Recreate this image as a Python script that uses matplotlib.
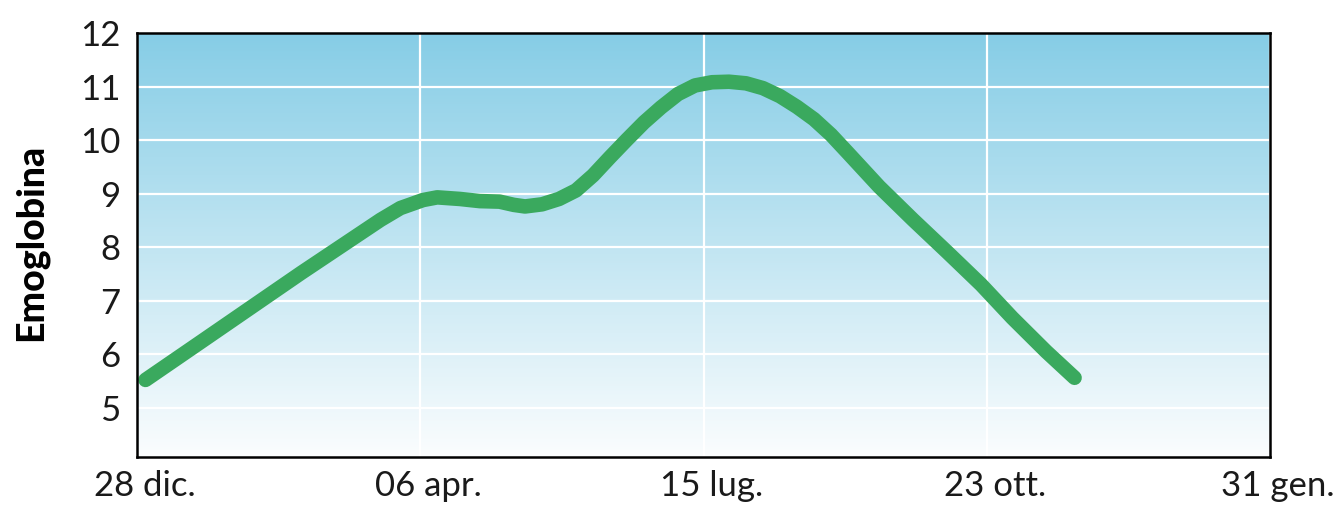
import numpy as np
import pandas as pd
import matplotlib
matplotlib.use("Agg")
import matplotlib.pyplot as plt
import matplotlib.transforms as mtransforms
from matplotlib.colors import LinearSegmentedColormap

plt.rcParams['font.family'] = ['Lato', 'DejaVu Sans']

# Data (days after 28 dic., haemoglobin value)
start = pd.Timestamp('2019-12-28')
days = [3, 22, 58, 86, 93, 101, 106, 114, 121, 128, 133, 137, 143, 149, 155,
        161, 167, 173, 179, 185, 191, 197, 203, 209, 215, 221, 227, 233, 239,
        245, 251, 262, 274, 286, 298, 309, 321, 331]
emoglobina = [5.52, 6.21, 7.52, 8.51, 8.73, 8.88, 8.93, 8.90, 8.86, 8.85, 8.79,
              8.76, 8.80, 8.90, 9.06, 9.34, 9.68, 10.01, 10.33, 10.61, 10.86,
              11.02, 11.08, 11.09, 11.06, 10.97, 10.82, 10.62, 10.39,
              10.10, 9.76, 9.13, 8.51, 7.91, 7.30, 6.68, 6.05, 5.56]
dates = start + pd.to_timedelta(days, unit='D')

tick_dates = start + pd.to_timedelta([0, 100, 200, 300, 400], unit='D')
tick_labels = ['28 dic.', '06 apr.', '15 lug.', '23 ott.', '31 gen.']
y_ticks = [5, 6, 7, 8, 9, 10, 11, 12]

fig = plt.figure(figsize=(13.4, 5.21), dpi=100)
ax = fig.add_axes([137 / 1340, 1 - 457 / 521, (1270 - 137) / 1340, (457 - 33) / 521])

# gradient background
cmap = LinearSegmentedColormap.from_list('bg', ['#fbfdfe', '#86cde6'])
grad = np.linspace(0, 1, 256).reshape(-1, 1)
ax.imshow(grad, aspect='auto', cmap=cmap, origin='lower',
          extent=[0, 1, 0, 1], transform=ax.transAxes, zorder=0)

ax.plot(dates, emoglobina, color='#3aa95e', linewidth=10.5,
        solid_capstyle='round', solid_joinstyle='round', zorder=3)

ax.set_xlim(tick_dates[0], tick_dates[-1])
ax.set_ylim(4.08, 12)
ax.set_xticks(tick_dates)
ax.set_xticklabels(tick_labels)
ax.set_yticks(y_ticks)
ax.grid(True, color='white', linewidth=1.6)
for line in ax.get_xgridlines() + ax.get_ygridlines():
    line.set_zorder(1)

ax.tick_params(length=0, labelsize=25, labelcolor='#1a1a1a')
ax.tick_params(axis='y', pad=12)
ax.tick_params(axis='x', pad=9)
# x labels sit a little right of their ticks in the original
shift = mtransforms.ScaledTranslation(8 / 100, 0, fig.dpi_scale_trans)
for lbl in ax.get_xticklabels():
    lbl.set_transform(lbl.get_transform() + shift)
for s in ax.spines.values():
    s.set_linewidth(1.8)
    s.set_color('black')
    s.set_zorder(4)

fig.text(31 / 1340, 1 - 242 / 521, 'Emoglobina', rotation=90, fontsize=27,
         fontweight='black', ha='center', va='center', color='black')

fig.savefig('out.png', dpi=100)
